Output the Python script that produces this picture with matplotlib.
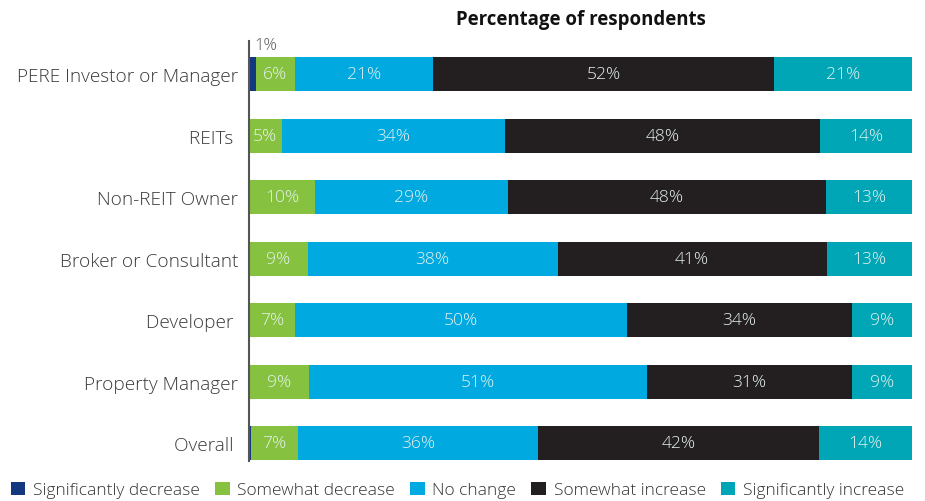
import numpy as np
import matplotlib.pyplot as plt
from matplotlib.patches import Patch

plt.rcParams['font.family'] = ['Open Sans', 'DejaVu Sans']

# Survey responses by respondent type, top row first
categories = ['PERE Investor or Manager', 'REITs ', 'Non-REIT Owner', 'Broker or Consultant',
              'Developer ', 'Property Manager', 'Overall ']
responses = ['Significantly decrease', 'Somewhat decrease', 'No change',
             'Somewhat increase', 'Significantly increase']
sig_decrease = [1, 0, 0, 0, 0, 0, 0.3]
some_decrease = [6, 5, 10, 9, 7, 9, 7]
no_change = [21, 34, 29, 38, 50, 51, 36]
some_increase = [52, 48, 48, 41, 34, 31, 42]
sig_increase = [21, 14, 13, 13, 9, 9, 14]

colors = ['#14387f', '#86c140', '#00a9e0', '#231f20', '#00a5b6']

data = np.array([sig_decrease, some_decrease, no_change, some_increase, sig_increase], dtype=float)
# rounded shares don't always add to 100, so scale each bar to full width
widths = data / data.sum(axis=0) * 100

fig = plt.figure(figsize=(9.25, 5.02), dpi=100)
ax = fig.add_axes([249 / 925, 1 - 462 / 502, (912 - 249) / 925, (462 - 42) / 502])

y = np.arange(len(categories))
left = np.zeros(len(categories))
for i, (name, col) in enumerate(zip(responses, colors)):
    ax.barh(y, widths[i], left=left, height=0.55, color=col, label=name)
    for j in range(len(categories)):
        val = data[i, j]
        if val >= 1:
            cx = left[j] + widths[i, j] / 2
            if i == 0:
                # too thin for text inside, put it above the bar
                ax.text(cx + 2.0, y[j] - 0.34, f'{val:.0f}%', ha='center', va='bottom',
                        fontsize=12, fontweight='light', color='#555555')
            else:
                ax.text(cx, y[j], f'{val:.0f}%', ha='center', va='center',
                        fontsize=12.6, fontweight='light', color='#e6f2ee')
    left += widths[i]

ax.set_xlim(0, 100)
ax.set_ylim(6.29, -0.54)
ax.set_yticks(y)
ax.set_yticklabels(categories, fontsize=13.7, fontweight='light', color='#3a3a3a')
ax.tick_params(axis='y', length=0, pad=8)
ax.set_xticks([])
for s in ['top', 'right', 'bottom']:
    ax.spines[s].set_visible(False)
ax.spines['left'].set_color('#555555')
ax.spines['left'].set_linewidth(1.5)

fig.text((249 + 912) / 2 / 925, 1 - 20 / 502, 'Percentage of respondents', ha='center', va='center',
         fontsize=13.4, fontweight='bold', color='#111111')

handles = [Patch(facecolor=c, label=n) for c, n in zip(colors, responses)]
fig.legend(handles=handles, loc='center', bbox_to_anchor=(457.5 / 925, 1 - 491 / 502), ncol=5,
           frameon=False, prop={'size': 12.5, 'weight': 'light'}, handlelength=0.85,
           handleheight=0.85, handletextpad=0.45, columnspacing=0.85, labelcolor='#333333')

fig.savefig('out.png', dpi=100, facecolor='white')
